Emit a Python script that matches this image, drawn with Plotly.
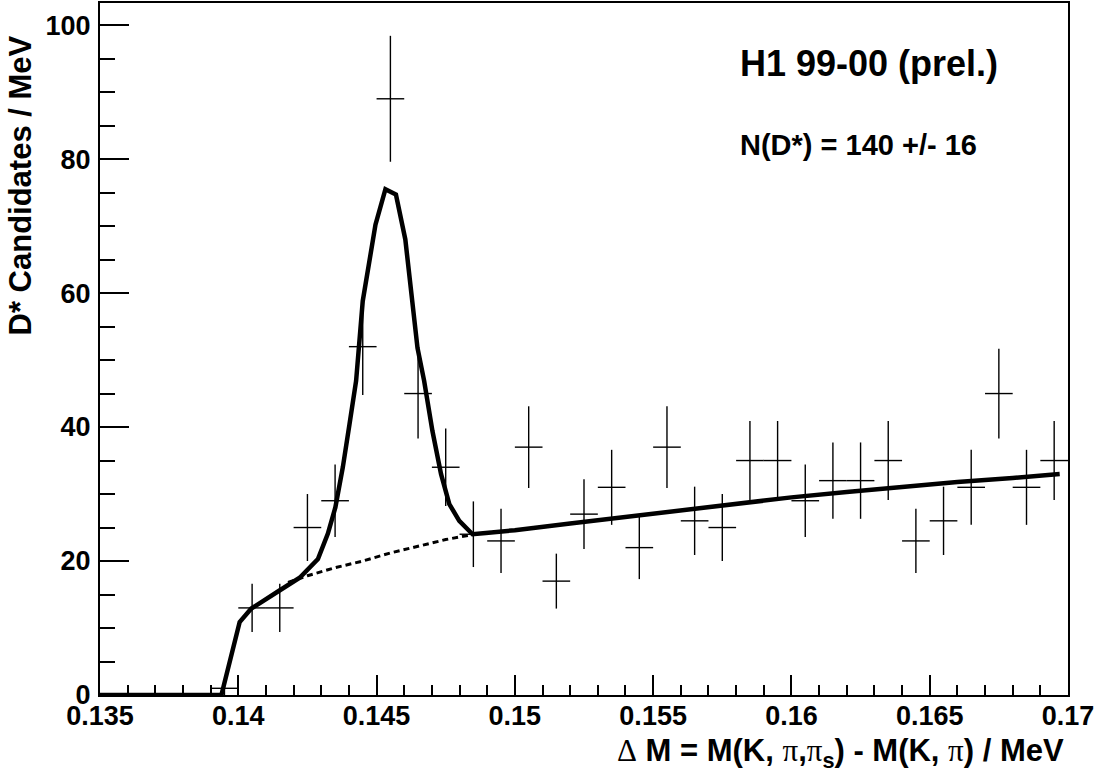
import plotly.graph_objects as go

# Histogram bins (bin centres, MeV scale as on axis), counts and errors
bin_centres = [0.1395, 0.1405, 0.1415, 0.1425, 0.1435, 0.1445, 0.1455, 0.1465, 0.1475,
               0.1485, 0.1495, 0.1505, 0.1515, 0.1525, 0.1535, 0.1545, 0.1555, 0.1565,
               0.1575, 0.1585, 0.1595, 0.1605, 0.1615, 0.1625, 0.1635, 0.1645, 0.1655,
               0.1665, 0.1675, 0.1685, 0.1695]
counts = [1, 13, 13, 25, 29, 52, 89, 45, 34,
          24, 23, 37, 17, 27, 31, 22, 37, 26,
          25, 35, 35, 29, 32, 32, 35, 23, 26,
          31, 45, 31, 35]
count_errors = [1.0, 3.6, 3.6, 5.0, 5.4, 7.2, 9.4, 6.7, 5.8,
                4.9, 4.8, 6.1, 4.1, 5.2, 5.6, 4.7, 6.1, 5.1,
                5.0, 5.9, 5.9, 5.4, 5.7, 5.7, 5.9, 4.8, 5.1,
                5.6, 6.7, 5.6, 5.9]
half_bin = [0.0005] * len(bin_centres)

# Fit curve (signal + background)
fit_x = [0.1350, 0.13939, 0.14005, 0.14047, 0.14149, 0.14222, 0.14288, 0.14324, 0.14351,
         0.14378, 0.14402, 0.14426, 0.14450, 0.14496, 0.14532, 0.14570, 0.14604, 0.14648,
         0.14672, 0.14702, 0.14733, 0.14763, 0.14799, 0.14847, 0.14895, 0.1500, 0.1520,
         0.1540, 0.1560, 0.1580, 0.1600, 0.1620, 0.1640, 0.1660, 0.1680, 0.1697]
fit_y = [0.0, 0.0, 10.9, 12.9, 15.6, 17.5, 20.3, 24.1, 28.0,
         34.0, 40.4, 46.9, 58.8, 70.2, 75.5, 74.7, 68.0, 51.8,
         46.9, 39.4, 33.0, 28.5, 26.0, 24.0, 24.2, 24.6, 25.6,
         26.6, 27.6, 28.6, 29.5, 30.3, 31.1, 31.8, 32.4, 33.0]

# Background-only component (dashed) under the peak
bg_x = [0.1418, 0.1425, 0.1435, 0.1445, 0.1455, 0.1465, 0.1475, 0.1488]
bg_y = [16.8, 17.8, 19.0, 20.0, 21.2, 22.2, 23.2, 24.2]

x_tickvals = [0.135, 0.14, 0.145, 0.15, 0.155, 0.16, 0.165, 0.17]
x_ticktext = ["0.135", "0.14", "0.145", "0.15", "0.155", "0.16", "0.165", "0.17"]
y_tickvals = [0, 20, 40, 60, 80, 100]
y_ticktext = ["0", "20", "40", "60", "80", "100"]

FONT = "Liberation Sans, Arial, Helvetica, sans-serif"
SYM = "Liberation Serif, Times New Roman, serif"

fig = go.Figure()

fig.add_trace(go.Scatter(
    x=bg_x, y=bg_y, mode="lines",
    line=dict(color="black", width=3, dash="6px,4px"),
    hoverinfo="skip", showlegend=False))

fig.add_trace(go.Scatter(
    x=bin_centres, y=counts, mode="markers",
    marker=dict(size=1, color="rgba(0,0,0,0)"),
    error_y=dict(type="data", array=count_errors, visible=True,
                 color="black", thickness=1.4, width=0),
    error_x=dict(type="data", array=half_bin, visible=True,
                 color="black", thickness=1.4, width=0),
    showlegend=False))

fig.add_trace(go.Scatter(
    x=fit_x, y=fit_y, mode="lines",
    line=dict(color="black", width=4.5),
    hoverinfo="skip", showlegend=False))

fig.update_layout(
    width=1104, height=772,
    margin=dict(l=100, r=36, t=1, b=77),
    paper_bgcolor="white", plot_bgcolor="white",
    font=dict(family=FONT, color="black", size=27, weight="bold"),
    showlegend=False,
)

fig.update_xaxes(
    range=[0.135, 0.17], showgrid=False, zeroline=False,
    showline=True, linewidth=2, linecolor="black", mirror=True,
    ticks="inside", ticklen=20, tickwidth=1.5, tickcolor="black",
    tickvals=x_tickvals, ticktext=x_ticktext, ticklabelstandoff=-4,
    tickfont=dict(family=FONT, size=27, color="black", weight="bold"),
    minor=dict(dtick=0.001, tick0=0.135, ticks="inside", ticklen=10,
               tickwidth=1.5, tickcolor="black", showgrid=False),
)
fig.update_yaxes(
    range=[0, 103.3], showgrid=False, zeroline=False,
    showline=True, linewidth=2, linecolor="black", mirror=True,
    ticks="inside", ticklen=29, tickwidth=1.5, tickcolor="black",
    tickvals=y_tickvals, ticktext=y_ticktext, ticklabelstandoff=2,
    tickfont=dict(family=FONT, size=27, color="black", weight="bold"),
    minor=dict(dtick=5, tick0=0, ticks="inside", ticklen=15,
               tickwidth=1.5, tickcolor="black", showgrid=False),
)

annotations = [
    dict(text="D* Candidates / MeV", xref="paper", yref="paper",
         x=-0.0811, y=0.737, xanchor="center", yanchor="middle",
         textangle=-90, showarrow=False,
         font=dict(family=FONT, size=31, color="black", weight="bold")),
    dict(text=("<span style='font-family:%s;font-weight:normal'>\u0394</span> M = M(K, "
               "<span style='font-family:%s;font-weight:normal'>\u03c0</span>,"
               "<span style='font-family:%s;font-weight:normal'>\u03c0</span><sub>s</sub>) - M(K, "
               "<span style='font-family:%s;font-weight:normal'>\u03c0</span>) / MeV") % (SYM, SYM, SYM, SYM),
         xref="paper", yref="paper",
         x=0.998, y=-0.084, xanchor="right", yanchor="middle",
         showarrow=False,
         font=dict(family=FONT, size=31, color="black", weight="bold")),
    dict(text="H1 99-00 (prel.)", xref="paper", yref="paper",
         x=0.659, y=0.913, xanchor="left", yanchor="middle", showarrow=False,
         font=dict(family=FONT, size=36, color="black", weight="bold")),
    dict(text="N(D*) = 140 +/- 16", xref="paper", yref="paper",
         x=0.659, y=0.795, xanchor="left", yanchor="middle", showarrow=False,
         font=dict(family=FONT, size=29, color="black", weight="bold")),
]
fig.update_layout(annotations=annotations)

fig.write_html("out.html")
